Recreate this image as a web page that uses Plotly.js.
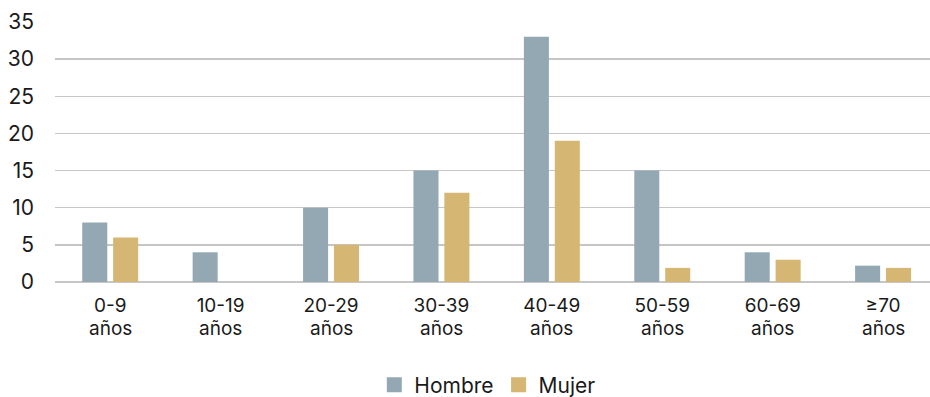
<!DOCTYPE html>
<html>
<head>
<meta charset="utf-8">
<script src="https://cdn.plot.ly/plotly-3.0.1.min.js"></script>
<style>
  html, body { margin: 0; padding: 0; background: #fff; }
  #chart { width: 930px; height: 397px; }
</style>
</head>
<body>
<div id="chart"></div>
<script>
// Age groups (first line of each label) and the shared second line
const categories = ["0-9", "10-19", "20-29", "30-39", "40-49", "50-59", "60-69", "≥70"];
const labelSuffix = "años";
const hombre = [8, 4, 10, 15, 33, 15, 4, 2.2];
const mujer  = [6, 0, 5, 12, 19, 1.9, 3, 1.9];
const yTicks = [0, 5, 10, 15, 20, 25, 30, 35];

const colors = { Hombre: "#94a8b4", Mujer: "#d6b673" };
const font = "Inter, 'Open Sans', sans-serif";
const ink = "#1a1a1a";

const traces = [
  { type: "bar", name: "Hombre", x: categories, y: hombre, showlegend: false,
    marker: { color: colors.Hombre }, hoverinfo: "skip" },
  { type: "bar", name: "Mujer", x: categories, y: mujer, showlegend: false,
    marker: { color: colors.Mujer }, hoverinfo: "skip" },
  // legend entries with larger square swatches
  { type: "scatter", mode: "markers", name: "Hombre", x: [null], y: [null],
    marker: { symbol: "square", size: 15, color: colors.Hombre }, hoverinfo: "skip" },
  { type: "scatter", mode: "markers", name: "Mujer", x: [null], y: [null],
    marker: { symbol: "square", size: 15, color: colors.Mujer }, hoverinfo: "skip" }
];

// second line of each category label, placed on the category axis
const annotations = categories.map(c => ({
  x: c, xref: "x", y: -0.18, yref: "paper", yanchor: "middle",
  text: labelSuffix, showarrow: false,
  font: { family: font, size: 19, color: ink }
}));

const layout = {
  width: 930, height: 397,
  margin: { l: 55, r: 0, t: 22, b: 115 },
  paper_bgcolor: "#fff", plot_bgcolor: "#fff",
  barmode: "group", bargap: 0.44, bargroupgap: 0.19,
  font: { family: font, size: 19, color: ink },
  xaxis: {
    type: "category", range: [-0.5, 7.425],
    showgrid: false, showline: false, zeroline: false,
    ticks: "", tickfont: { family: font, size: 19, color: ink },
    ticklabelstandoff: 10
  },
  yaxis: {
    range: [0, 35], tickvals: yTicks, ticktext: yTicks.map(String),
    showgrid: true, gridcolor: "#c6c6c6", gridwidth: 1.5,
    zeroline: true, zerolinecolor: "#c6c6c6", zerolinewidth: 1.5,
    showline: false, ticks: "", ticklabelstandoff: 20,
    tickfont: { family: font, size: 21, color: ink }
  },
  annotations: annotations,
  showlegend: true,
  legend: {
    orientation: "h", x: 0.524, xanchor: "center", xref: "container",
    y: 0.03, yanchor: "middle", yref: "container",
    font: { family: font, size: 21, color: ink },
    itemwidth: 30, traceorder: "normal"
  }
};

Plotly.newPlot("chart", traces, layout, { displayModeBar: false, staticPlot: true });
</script>
</body>
</html>
